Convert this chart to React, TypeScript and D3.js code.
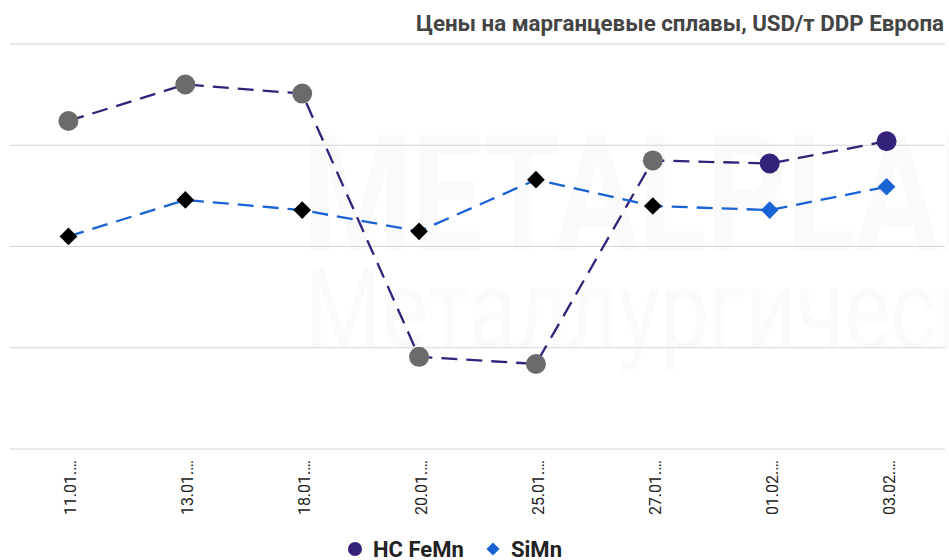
import React from 'react';
import * as d3 from 'd3';

// dates (labels are truncated in the original)
const dates = ['11.01', '13.01', '18.01', '20.01', '25.01', '27.01', '01.02', '03.02'];
// USD/t
const feMn = [1524, 1560, 1551, 1291, 1284, 1485, 1482, 1504];
const siMn = [1410, 1446, 1436, 1415, 1466, 1440, 1436, 1459];
const yTicks = [1200, 1300, 1400, 1500, 1600];
// the last two points are highlighted in series colour, the rest are muted
const highlighted = [false, false, false, false, false, false, true, true];

const W = 949;
const H = 560;
const margin = { top: 44, right: 4, bottom: 111, left: 10 };

const feColor = '#35207a';
const siColor = '#1a63d6';
const feMuted = '#6b6b6b';
const siMuted = '#000000';
const font = 'Roboto, sans-serif';

const App = () => {
  const x = d3.scalePoint<string>()
    .domain(dates)
    .range([margin.left, W - margin.right])
    .padding(0.5);

  const y = d3.scaleLinear()
    .domain([1200, 1600])
    .range([H - margin.bottom, margin.top]);

  const line = d3.line<number>()
    .x((_, i) => x(dates[i]) as number)
    .y(d => y(d));

  const diamond = d3.symbol().type(d3.symbolDiamond2).size(200)();

  return (
    <svg width={W} height={H} style={{ position: 'absolute', left: 0, top: 0, background: '#fff' }}>
      {/* faint watermark */}
      <g fill="#fafafa" fontFamily={font}>
        <text x={303} y={250} fontSize={162} fontWeight={700} textLength={800} lengthAdjust="spacingAndGlyphs">METALPLANT</text>
        <text x={305} y={348} fontSize={112} textLength={780} lengthAdjust="spacingAndGlyphs">Металлургический</text>
      </g>

      <text x={944} y={31} textAnchor="end" fontFamily={font} fontWeight={700} fontSize={22.3} fill="#444">
        Цены на марганцевые сплавы, USD/т DDP Европа
      </text>

      {yTicks.map(t => (
        <line key={t} x1={margin.left} x2={W - margin.right} y1={y(t)} y2={y(t)} stroke="#d4d4d4" strokeWidth={1} />
      ))}

      <path d={line(feMn) ?? ''} fill="none" stroke={feColor} strokeWidth={2.3} strokeDasharray="16 9" />
      <path d={line(siMn) ?? ''} fill="none" stroke={siColor} strokeWidth={2.3} strokeDasharray="16 9" />

      {siMn.map((v, i) => (
        <path
          key={'s' + i}
          d={diamond ?? ''}
          transform={`translate(${x(dates[i])},${y(v)})`}
          fill={highlighted[i] ? siColor : siMuted}
        />
      ))}
      {feMn.map((v, i) => (
        <circle
          key={'f' + i}
          cx={x(dates[i])}
          cy={y(v)}
          r={10}
          fill={highlighted[i] ? feColor : feMuted}
        />
      ))}

      {dates.map(d => (
        <text
          key={d}
          transform={`translate(${(x(d) as number) + 8},460) rotate(-90)`}
          textAnchor="end"
          fontFamily={font}
          fontSize={16}
          fill="#222"
        >
          {d + '.…'}
        </text>
      ))}

      <g fontFamily={font} fontWeight={700} fontSize={22} fill="#222">
        <circle cx={355} cy={549} r={7} fill={feColor} />
        <text x={373} y={557}>HC FeMn</text>
        <path d={d3.symbol().type(d3.symbolDiamond2).size(110)() ?? ''} transform="translate(493,549)" fill={siColor} />
        <text x={511} y={557}>SiMn</text>
      </g>
    </svg>
  );
};

export default App;
